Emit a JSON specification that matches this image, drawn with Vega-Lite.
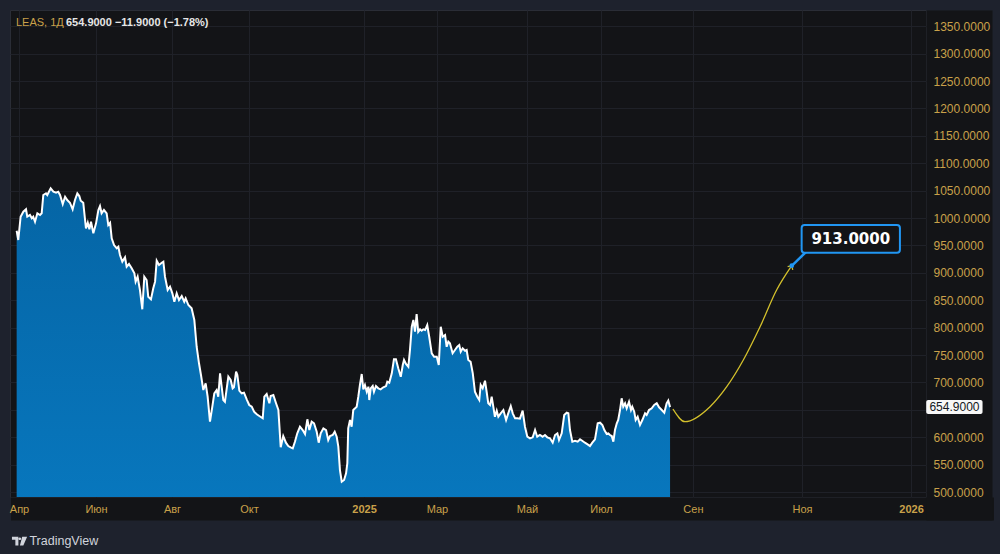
{
  "$schema": "https://vega.github.io/schema/vega-lite/v6.json",
  "width": 916,
  "height": 487,
  "autosize": {"type": "none"},
  "padding": {"left": 10, "top": 10, "right": 74, "bottom": 57},
  "background": "#1e222d",
  "config": {"view": {"fill": "#131417", "stroke": "#2a2d36", "strokeWidth": 1}, "font": "Liberation Sans"},
  "resolve": {"scale": {"x": "shared", "y": "shared"}, "axis": {"x": "independent", "y": "independent"}},
  "datasets": {
    "series": [
      {"i":3.7,"close":976.8},{"i":4.6,"close":959.9},{"i":5.9,"close":1002.4},{"i":7.4,"close":1011.5},{"i":8.9,"close":1015.9},{"i":9.6,"close":1002.4},{"i":11.1,"close":1005.5},{"i":12.1,"close":999.4},{"i":12.9,"close":1002.4},{"i":13.9,"close":993.2},{"i":15.2,"close":1008.6},{"i":16.7,"close":1005.5},{"i":17.6,"close":1008.6},{"i":18.5,"close":1042.0},{"i":20.0,"close":1045.1},{"i":20.7,"close":1042.0},{"i":22.6,"close":1054.2},{"i":24.1,"close":1048.0},{"i":25.6,"close":1046.2},{"i":26.8,"close":1048.0},{"i":27.8,"close":1042.0},{"i":29.3,"close":1025.5},{"i":30.6,"close":1038.9},{"i":31.8,"close":1032.8},{"i":33.3,"close":1027.9},{"i":34.8,"close":1015.9},{"i":36.1,"close":1032.8},{"i":37.4,"close":1045.1},{"i":38.5,"close":1040.1},{"i":39.3,"close":1031.6},{"i":40.7,"close":1027.9},{"i":42.2,"close":981.2},{"i":43.2,"close":991.4},{"i":44.1,"close":979.4},{"i":45.0,"close":993.2},{"i":46.3,"close":972.1},{"i":47.8,"close":990.3},{"i":49.1,"close":1014.6},{"i":50.0,"close":1021.9},{"i":50.9,"close":1008.6},{"i":52.2,"close":1014.6},{"i":53.7,"close":1008.6},{"i":54.6,"close":987.2},{"i":55.6,"close":991.4},{"i":56.5,"close":963.0},{"i":57.8,"close":950.7},{"i":59.3,"close":944.7},{"i":60.2,"close":947.6},{"i":61.1,"close":932.5},{"i":62.4,"close":920.3},{"i":63.9,"close":928.3},{"i":64.8,"close":911.1},{"i":66.1,"close":916.1},{"i":67.6,"close":908.2},{"i":69.1,"close":899.1},{"i":69.8,"close":883.8},{"i":70.9,"close":892.9},{"i":72.2,"close":868.6},{"i":73.5,"close":833.4},{"i":74.6,"close":892.9},{"i":75.9,"close":886.9},{"i":76.8,"close":856.4},{"i":78.3,"close":851.6},{"i":79.6,"close":871.7},{"i":80.6,"close":883.8},{"i":81.5,"close":922.1},{"i":82.8,"close":914.2},{"i":84.3,"close":918.4},{"i":85.2,"close":920.3},{"i":86.1,"close":892.9},{"i":87.6,"close":868.6},{"i":88.9,"close":874.6},{"i":90.2,"close":862.6},{"i":91.3,"close":847.3},{"i":92.6,"close":862.6},{"i":93.9,"close":850.4},{"i":95.4,"close":857.7},{"i":96.8,"close":847.3},{"i":97.6,"close":853.5},{"i":99.1,"close":841.2},{"i":100.9,"close":835.2},{"i":102.4,"close":813.9},{"i":103.7,"close":765.1},{"i":105.0,"close":734.9},{"i":106.1,"close":713.5},{"i":107.4,"close":686.1},{"i":108.7,"close":698.4},{"i":109.8,"close":673.9},{"i":111.1,"close":628.3},{"i":112.4,"close":655.7},{"i":113.5,"close":680.1},{"i":114.8,"close":686.1},{"i":115.7,"close":673.9},{"i":116.7,"close":716.6},{"i":118.5,"close":667.9},{"i":119.4,"close":664.8},{"i":121.3,"close":710.4},{"i":122.6,"close":704.4},{"i":123.7,"close":689.2},{"i":124.4,"close":691.1},{"i":125.6,"close":719.5},{"i":126.3,"close":713.5},{"i":127.4,"close":684.9},{"i":128.7,"close":680.1},{"i":130.0,"close":681.2},{"i":131.5,"close":669.2},{"i":132.9,"close":658.8},{"i":134.3,"close":655.7},{"i":135.6,"close":646.5},{"i":137.1,"close":641.8},{"i":138.5,"close":638.7},{"i":140.4,"close":634.5},{"i":141.3,"close":673.9},{"i":142.6,"close":678.8},{"i":144.1,"close":661.9},{"i":144.8,"close":675.2},{"i":146.3,"close":677.0},{"i":147.8,"close":661.9},{"i":149.1,"close":649.6},{"i":150.4,"close":581.6},{"i":151.8,"close":602.2},{"i":153.3,"close":590.0},{"i":154.6,"close":583.9},{"i":155.9,"close":581.6},{"i":157.1,"close":579.7},{"i":158.3,"close":591.8},{"i":159.6,"close":607.1},{"i":161.1,"close":619.2},{"i":162.6,"close":613.1},{"i":163.9,"close":605.8},{"i":165.2,"close":632.7},{"i":166.3,"close":613.1},{"i":167.6,"close":628.3},{"i":168.9,"close":625.4},{"i":170.4,"close":610.0},{"i":171.5,"close":590.0},{"i":172.6,"close":607.1},{"i":174.1,"close":616.2},{"i":175.6,"close":613.1},{"i":176.8,"close":594.9},{"i":177.8,"close":602.2},{"i":179.3,"close":604.0},{"i":180.4,"close":610.0},{"i":181.5,"close":600.9},{"i":182.4,"close":582.7},{"i":183.3,"close":540.1},{"i":184.3,"close":518.8},{"i":185.6,"close":521.9},{"i":186.7,"close":534.1},{"i":187.4,"close":552.4},{"i":187.9,"close":616.2},{"i":188.9,"close":631.4},{"i":189.8,"close":619.2},{"i":190.7,"close":649.6},{"i":191.7,"close":652.7},{"i":192.6,"close":655.7},{"i":193.5,"close":673.9},{"i":194.4,"close":695.3},{"i":195.4,"close":715.3},{"i":196.3,"close":687.4},{"i":197.2,"close":695.3},{"i":198.2,"close":683.0},{"i":199.1,"close":692.2},{"i":199.6,"close":667.9},{"i":200.4,"close":689.2},{"i":201.5,"close":693.4},{"i":202.2,"close":683.0},{"i":203.3,"close":693.4},{"i":204.6,"close":689.2},{"i":205.9,"close":687.4},{"i":207.4,"close":691.1},{"i":208.9,"close":693.4},{"i":209.6,"close":701.3},{"i":210.7,"close":699.5},{"i":212.1,"close":716.6},{"i":213.3,"close":742.2},{"i":214.4,"close":742.2},{"i":215.7,"close":725.7},{"i":217.1,"close":710.4},{"i":218.2,"close":731.7},{"i":218.9,"close":740.9},{"i":220.0,"close":733.6},{"i":221.3,"close":728.6},{"i":222.2,"close":759.1},{"i":223.2,"close":801.6},{"i":224.1,"close":813.9},{"i":225.0,"close":792.5},{"i":225.9,"close":824.8},{"i":226.8,"close":792.5},{"i":227.8,"close":796.9},{"i":228.7,"close":794.3},{"i":229.6,"close":796.9},{"i":230.6,"close":795.6},{"i":231.8,"close":804.7},{"i":232.9,"close":783.4},{"i":234.3,"close":753.1},{"i":235.6,"close":746.9},{"i":237.1,"close":746.9},{"i":238.2,"close":731.7},{"i":239.3,"close":801.6},{"i":240.4,"close":783.4},{"i":241.7,"close":786.5},{"i":242.6,"close":765.1},{"i":243.5,"close":774.3},{"i":244.4,"close":771.3},{"i":245.9,"close":753.1},{"i":247.2,"close":759.1},{"i":248.5,"close":765.1},{"i":249.6,"close":768.2},{"i":250.4,"close":756.0},{"i":251.5,"close":762.2},{"i":252.8,"close":757.8},{"i":253.7,"close":759.1},{"i":254.6,"close":740.9},{"i":255.9,"close":737.8},{"i":257.1,"close":716.6},{"i":258.3,"close":683.0},{"i":259.6,"close":673.9},{"i":260.7,"close":667.9},{"i":261.5,"close":695.3},{"i":262.6,"close":689.2},{"i":263.9,"close":703.1},{"i":264.8,"close":683.0},{"i":265.7,"close":661.9},{"i":266.7,"close":658.8},{"i":267.6,"close":673.9},{"i":268.5,"close":655.7},{"i":269.4,"close":637.4},{"i":270.4,"close":648.4},{"i":271.3,"close":637.4},{"i":272.6,"close":643.6},{"i":274.1,"close":649.6},{"i":275.6,"close":631.4},{"i":276.8,"close":643.6},{"i":278.2,"close":656.9},{"i":279.3,"close":643.6},{"i":280.6,"close":634.5},{"i":281.8,"close":634.5},{"i":283.3,"close":633.8},{"i":284.8,"close":648.4},{"i":286.1,"close":619.2},{"i":287.4,"close":600.9},{"i":288.9,"close":598.0},{"i":290.4,"close":599.8},{"i":291.7,"close":613.1},{"i":292.9,"close":600.9},{"i":294.4,"close":604.0},{"i":295.9,"close":600.9},{"i":297.2,"close":604.0},{"i":298.5,"close":599.8},{"i":300.0,"close":598.0},{"i":301.5,"close":590.0},{"i":302.8,"close":604.0},{"i":304.1,"close":607.1},{"i":305.0,"close":594.9},{"i":306.5,"close":607.1},{"i":307.9,"close":640.5},{"i":309.3,"close":644.7},{"i":310.2,"close":643.6},{"i":311.1,"close":613.1},{"i":312.4,"close":591.8},{"i":313.9,"close":593.6},{"i":315.4,"close":591.8},{"i":316.7,"close":596.2},{"i":317.9,"close":593.6},{"i":319.4,"close":590.0},{"i":320.9,"close":587.0},{"i":322.2,"close":583.9},{"i":323.5,"close":590.0},{"i":325.0,"close":596.2},{"i":326.5,"close":625.4},{"i":327.8,"close":626.5},{"i":329.1,"close":622.3},{"i":330.2,"close":613.1},{"i":331.5,"close":605.8},{"i":332.4,"close":607.1},{"i":333.3,"close":604.0},{"i":334.3,"close":602.2},{"i":335.2,"close":591.8},{"i":336.1,"close":613.1},{"i":337.1,"close":625.4},{"i":337.9,"close":631.4},{"i":338.9,"close":649.6},{"i":339.8,"close":671.0},{"i":340.7,"close":655.7},{"i":341.7,"close":661.9},{"i":342.6,"close":652.7},{"i":343.9,"close":664.8},{"i":345.0,"close":649.6},{"i":345.7,"close":655.7},{"i":346.8,"close":646.5},{"i":347.6,"close":631.4},{"i":348.7,"close":637.4},{"i":350.0,"close":622.3},{"i":351.3,"close":631.4},{"i":352.8,"close":643.6},{"i":353.7,"close":640.5},{"i":355.0,"close":649.6},{"i":356.5,"close":652.7},{"i":357.9,"close":658.8},{"i":359.3,"close":661.9},{"i":360.6,"close":654.6},{"i":362.1,"close":649.6},{"i":363.5,"close":644.7},{"i":364.8,"close":661.9},{"i":365.7,"close":666.8},{"i":366.7,"close":654.9}
    ],
    "forecast": [
      {"i":368.3,"close":651.5},{"i":375.0,"close":628.3},{"i":388.9,"close":655.7},{"i":398.2,"close":692.2},{"i":407.4,"close":740.9},{"i":416.7,"close":801.6},{"i":425.9,"close":868.6},{"i":434.3,"close":913.0}
    ]
  },
  "layer": [
    {
      "data": {"name": "series"},
      "mark": {"type": "area", "clip": true, "color": {"gradient": "linear", "x1": 0, "y1": 0, "x2": 0, "y2": 1, "stops": [{"offset": 0, "color": "#0565a5"}, {"offset": 1, "color": "#0a86d2"}]}},
      "encoding": {
        "x": {
          "field": "i", "type": "quantitative",
          "scale": {"domain": [0, 508.889], "nice": false, "zero": false},
          "axis": {
            "title": null, "orient": "bottom",
            "values": [5, 47.8, 90, 132.8, 196.7, 237.2, 287.2, 328.3, 379.4, 440, 500.6],
            "grid": true, "gridColor": "#1f2128", "gridWidth": 1,
            "labels": false, "ticks": false, "domain": false, "zindex": 0
          }
        },
        "y": {
          "field": "close", "type": "quantitative",
          "scale": {"domain": [490.9, 1379.6], "nice": false, "zero": false},
          "axis": {
            "title": null, "orient": "right",
            "values": [500, 550, 600, 650, 700, 750, 800, 850, 900, 950, 1000, 1050, 1100, 1150, 1200, 1250, 1300, 1350],
            "grid": true, "gridColor": "#1f2128", "gridWidth": 1,
            "labels": false, "ticks": false, "domain": false, "zindex": 0
          }
        }
      }
    },
    {
      "data": {"name": "forecast"},
      "mark": {"type": "line", "color": "#d4c12c", "strokeWidth": 1.3, "interpolate": "monotone"},
      "encoding": {
        "x": {
          "field": "i", "type": "quantitative",
          "axis": {
            "title": null, "orient": "bottom", "values": [273.06],
            "grid": false, "labels": false, "domain": false,
            "ticks": true, "tickColor": "#131417", "tickWidth": 983, "tickSize": 23, "tickCap": "butt", "zindex": 0
          }
        },
        "y": {
          "field": "close", "type": "quantitative",
          "axis": {
            "title": null, "orient": "right", "values": [914.3],
            "grid": false, "labels": false, "domain": false,
            "ticks": true, "tickColor": "#131417", "tickWidth": 510, "tickSize": 66, "tickCap": "butt", "zindex": 0
          }
        }
      }
    },
    {
      "data": {"name": "series"},
      "mark": {"type": "line", "clip": true, "color": "#ffffff", "strokeWidth": 2},
      "encoding": {
        "x": {
          "field": "i", "type": "quantitative",
          "axis": {
            "title": null, "orient": "bottom",
            "values": [5, 47.8, 90, 132.8, 196.7, 237.2, 287.2, 328.3, 379.4, 440, 500.6],
            "labelExpr": "datum.value < 20 ? 'Апр' : datum.value < 60 ? 'Июн' : datum.value < 100 ? 'Авг' : datum.value < 150 ? 'Окт' : datum.value < 210 ? '2025' : datum.value < 260 ? 'Мар' : datum.value < 300 ? 'Май' : datum.value < 350 ? 'Июл' : datum.value < 400 ? 'Сен' : datum.value < 470 ? 'Ноя' : '2026'",
            "grid": false, "ticks": false, "tickSize": 0, "domain": false, "offset": 0,
            "labelColor": "#c9a14a", "labelFontSize": 11, "labelPadding": 12, "labelBaseline": "middle",
            "labelFontWeight": {"condition": {"test": "(datum.value > 190 && datum.value < 210) || datum.value > 490", "value": "bold"}, "value": "normal"},
            "labelOverlap": false, "labelFlush": false, "zindex": 1
          }
        },
        "y": {
          "field": "close", "type": "quantitative",
          "axis": {
            "title": null, "orient": "right",
            "values": [500, 550, 600, 700, 750, 800, 850, 900, 950, 1000, 1050, 1100, 1150, 1200, 1250, 1300, 1350],
            "format": ".4f",
            "grid": false, "ticks": false, "tickSize": 0, "domain": false, "offset": 0,
            "labelColor": "#c9a14a", "labelFontSize": 12, "labelPadding": 7, "labelAlign": "left", "labelBaseline": "middle",
            "labelOverlap": false, "labelFlush": false, "zindex": 1
          }
        }
      }
    },
    {
      "data": {"values": [{"i": 434.3, "close": 913.0}]},
      "mark": {"type": "point", "shape": "M-1,1L0,0L1,1", "filled": false, "color": "#d4c12c", "strokeWidth": 1.3, "size": 36, "angle": 31, "opacity": 1},
      "encoding": {
        "x": {"field": "i", "type": "quantitative", "axis": null},
        "y": {"field": "close", "type": "quantitative", "axis": null}
      }
    },
    {
      "data": {"values": [{"i": 442.2, "close": 938.0}, {"i": 434.6, "close": 913.5}]},
      "mark": {"type": "line", "color": "#2196f3", "strokeWidth": 2.5},
      "encoding": {
        "x": {"field": "i", "type": "quantitative", "axis": null},
        "y": {"field": "close", "type": "quantitative", "axis": null}
      }
    },
    {
      "data": {"values": [{"i": 439.8, "i2": 494.4, "close": 936.7, "close2": 987.2}]},
      "mark": {"type": "rect", "fill": "#131417", "stroke": "#2196f3", "strokeWidth": 2, "cornerRadius": 3},
      "encoding": {
        "x": {"field": "i", "type": "quantitative", "axis": null},
        "x2": {"field": "i2"},
        "y": {"field": "close", "type": "quantitative", "axis": null},
        "y2": {"field": "close2"}
      }
    },
    {
      "data": {"values": [{"i": 467.1, "close": 962.0, "label": "913.0000"}]},
      "mark": {"type": "text", "font": "DejaVu Sans", "fontSize": 15, "fontWeight": "bold", "color": "#ffffff", "align": "center", "baseline": "middle"},
      "encoding": {
        "x": {"field": "i", "type": "quantitative", "axis": null},
        "y": {"field": "close", "type": "quantitative", "axis": null},
        "text": {"field": "label"}
      }
    },
    {
      "data": {"values": [{"i": 434.3, "close": 913.0}]},
      "mark": {"type": "point", "shape": "circle", "filled": true, "color": "#2196f3", "size": 22, "opacity": 1},
      "encoding": {
        "x": {"field": "i", "type": "quantitative", "axis": null},
        "y": {"field": "close", "type": "quantitative", "axis": null}
      }
    },
    {
      "data": {"values": [{"i": 509.0, "i2": 540.3, "close": 642.3, "close2": 667.9}]},
      "mark": {"type": "rect", "fill": "#f7f7f7", "cornerRadius": 2},
      "encoding": {
        "x": {"field": "i", "type": "quantitative", "axis": null},
        "x2": {"field": "i2"},
        "y": {"field": "close", "type": "quantitative", "axis": null},
        "y2": {"field": "close2"}
      }
    },
    {
      "data": {"values": [{"i": 524.7, "close": 655.1, "label": "654.9000"}]},
      "mark": {"type": "text", "fontSize": 12, "color": "#131722", "align": "center", "baseline": "middle"},
      "encoding": {
        "x": {"field": "i", "type": "quantitative", "axis": null},
        "y": {"field": "close", "type": "quantitative", "axis": null},
        "text": {"field": "label"}
      }
    },
    {
      "data": {"values": [{"i": 3.3, "close": 1355.3, "label": "LEAS, 1Д"}]},
      "mark": {"type": "text", "fontSize": 11, "color": "#c9a14a", "align": "left", "baseline": "middle"},
      "encoding": {
        "x": {"field": "i", "type": "quantitative", "axis": null},
        "y": {"field": "close", "type": "quantitative", "axis": null},
        "text": {"field": "label"}
      }
    },
    {
      "data": {"values": [{"i": 31.1, "close": 1355.3, "label": "654.9000  −11.9000 (−1.78%)"}]},
      "mark": {"type": "text", "fontSize": 11, "fontWeight": "bold", "color": "#e6e6e6", "align": "left", "baseline": "middle"},
      "encoding": {
        "x": {"field": "i", "type": "quantitative", "axis": null},
        "y": {"field": "close", "type": "quantitative", "axis": null},
        "text": {"field": "label"}
      }
    },
    {
      "data": {"values": [{"i": 5.3, "close": 410.6}]},
      "mark": {"type": "point", "shape": "M-1,-0.55H-0.15V0.6H-0.55V-0.15H-1Z M-0.13,-0.3a0.17,0.17 0 1,0 0.34,0a0.17,0.17 0 1,0 -0.34,0Z M0.35,-0.55H1L0.5,0.6H0.05Z", "filled": true, "color": "#d1d4dc", "size": 230, "opacity": 1},
      "encoding": {
        "x": {"field": "i", "type": "quantitative", "axis": null},
        "y": {"field": "close", "type": "quantitative", "axis": null}
      }
    },
    {
      "data": {"values": [{"i": 10.8, "close": 410.6, "label": "TradingView"}]},
      "mark": {"type": "text", "fontSize": 12.5, "color": "#d1d4dc", "align": "left", "baseline": "middle"},
      "encoding": {
        "x": {"field": "i", "type": "quantitative", "axis": null},
        "y": {"field": "close", "type": "quantitative", "axis": null},
        "text": {"field": "label"}
      }
    }
  ]
}
